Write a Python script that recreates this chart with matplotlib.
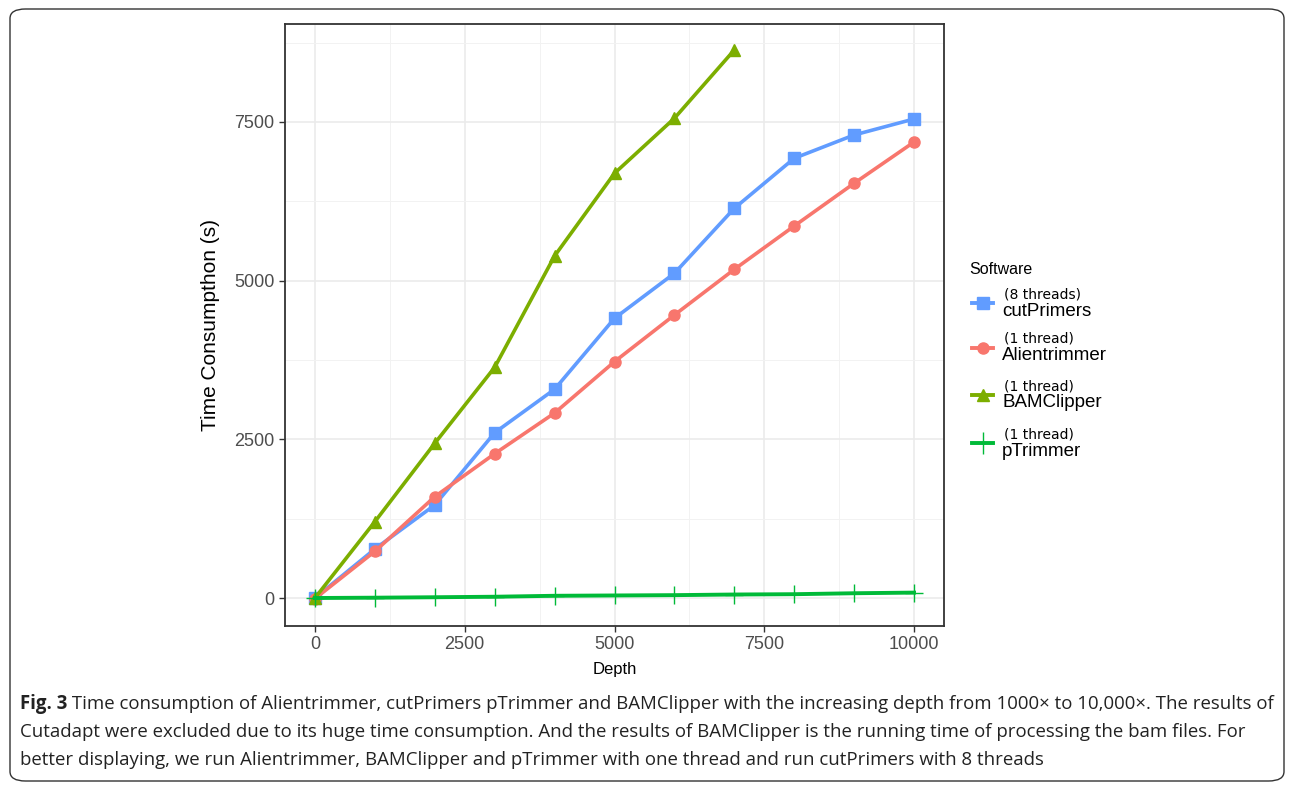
import matplotlib.pyplot as plt
from matplotlib.patches import FancyBboxPatch
from matplotlib.lines import Line2D

plt.rcParams['font.family'] = ['Liberation Sans', 'DejaVu Sans']

depth = [0, 1000, 2000, 3000, 4000, 5000, 6000, 7000, 8000, 9000, 10000]
depth_bam = [0, 1000, 2000, 3000, 4000, 5000, 6000, 7000]

cutprimers = [0, 772, 1465, 2604, 3288, 4406, 5115, 6139, 6927, 7294, 7546]
alientrimmer = [-10, 735, 1596, 2273, 2914, 3723, 4458, 5177, 5860, 6533, 7183]
bamclipper = [0, 1202, 2437, 3634, 5388, 6690, 7557, 8633]
ptrimmer = [0, 5, 12, 20, 35, 40, 45, 55, 60, 75, 85]

names = ['cutPrimers', 'Alientrimmer', 'BAMClipper', 'pTrimmer']
threads = ['(8 threads)', '(1 thread)', '(1 thread)', '(1 thread)']
colors = ['#619CFF', '#F8766D', '#7CAE00', '#00BA38']
markers = ['s', 'o', '^', '+']
msizes = [8.5, 8, 9, 13]

W, H = 1292, 789
fig = plt.figure(figsize=(W / 100, H / 100), dpi=100)

# outer rounded box
box = FancyBboxPatch((10 / W, 8 / H), 1274 / W, 772 / H,
                     boxstyle="round,pad=0,rounding_size=0.012",
                     transform=fig.transFigure, fill=False,
                     edgecolor='#333333', linewidth=1.0)
fig.add_artist(box)

ax = fig.add_axes([285 / W, 1 - 626 / H, 659 / W, 602 / H])

series = [(depth, cutprimers), (depth, alientrimmer), (depth_bam, bamclipper), (depth, ptrimmer)]
order = [1, 0, 2, 3]
for i in order:
    x, y = series[i]
    if markers[i] == '+':
        ax.plot(x, y, color=colors[i], lw=2.8, marker='+', ms=msizes[i], mew=1.0, zorder=3 + i)
    else:
        ax.plot(x, y, color=colors[i], lw=2.6, marker=markers[i], ms=msizes[i], zorder=3 + i)

ax.set_xlim(-500, 10500)
ax.set_ylim(-441, 9042)
ax.set_xticks([0, 2500, 5000, 7500, 10000])
ax.set_yticks([0, 2500, 5000, 7500])
ax.set_xticks([1250, 3750, 6250, 8750], minor=True)
ax.set_yticks([1250, 3750, 6250, 8750], minor=True)
ax.grid(which='major', color='#EBEBEB', lw=1.2)
ax.grid(which='minor', color='#F2F2F2', lw=0.7)
ax.set_axisbelow(True)
for s in ax.spines.values():
    s.set_color('#333333')
    s.set_linewidth(1.3)
ax.tick_params(which='major', length=4, color='#333333', labelsize=13, labelcolor='#4D4D4D', width=1)
ax.tick_params(which='minor', length=0)
ax.set_xlabel('Depth', fontsize=12, labelpad=6)
ax.set_ylabel('Time Consumpthon (s)', fontsize=15, labelpad=10)

# legend
fig.text(969 / W, 1 - 269 / H, 'Software', fontsize=11.5, va='center', ha='left')
key_y = [303, 348, 395, 443]
for i in range(4):
    yk = 1 - key_y[i] / H
    fig.add_artist(Line2D([972 / W, 993 / W], [yk, yk], transform=fig.transFigure,
                          color=colors[i], lw=2.8, marker=None))
    fig.add_artist(Line2D([982.5 / W], [yk], transform=fig.transFigure,
                          color=colors[i], marker=markers[i],
                          ms=msizes[i] if markers[i] != '+' else 16,
                          mew=1.0 if markers[i] == '+' else 1, linestyle='none'))
    fig.text(1004 / W, 1 - (key_y[i] - 9) / H, threads[i], fontsize=10, family='DejaVu Sans',
             va='center', ha='left')
    fig.text(1002 / W, 1 - (key_y[i] + 8) / H, names[i], fontsize=13.5, va='center', ha='left')

# caption
cap_font = ['Open Sans', 'DejaVu Sans']
lines = [
    ' Time consumption of Alientrimmer, cutPrimers pTrimmer and BAMClipper with the increasing depth from 1000\u00d7 to 10,000\u00d7. The results of',
    'Cutadapt were excluded due to its huge time consumption. And the results of BAMClipper is the running time of processing the bam files. For',
    'better displaying, we run Alientrimmer, BAMClipper and pTrimmer with one thread and run cutPrimers with 8 threads',
]
cs = 13.4
t0 = fig.text(20 / W, 1 - 704 / H, 'Fig. 3', fontsize=cs, fontweight='bold', family=cap_font, va='center', ha='left', color='#222222')
fig.canvas.draw()
bb = t0.get_window_extent()
fig.text(bb.x1 / W, 1 - 704 / H, lines[0], fontsize=cs, family=cap_font, va='center', ha='left', color='#222222')
fig.text(20 / W, 1 - 732 / H, lines[1], fontsize=cs, family=cap_font, va='center', ha='left', color='#222222')
fig.text(20 / W, 1 - 760 / H, lines[2], fontsize=cs, family=cap_font, va='center', ha='left', color='#222222')

fig.savefig('out.png', dpi=100)
